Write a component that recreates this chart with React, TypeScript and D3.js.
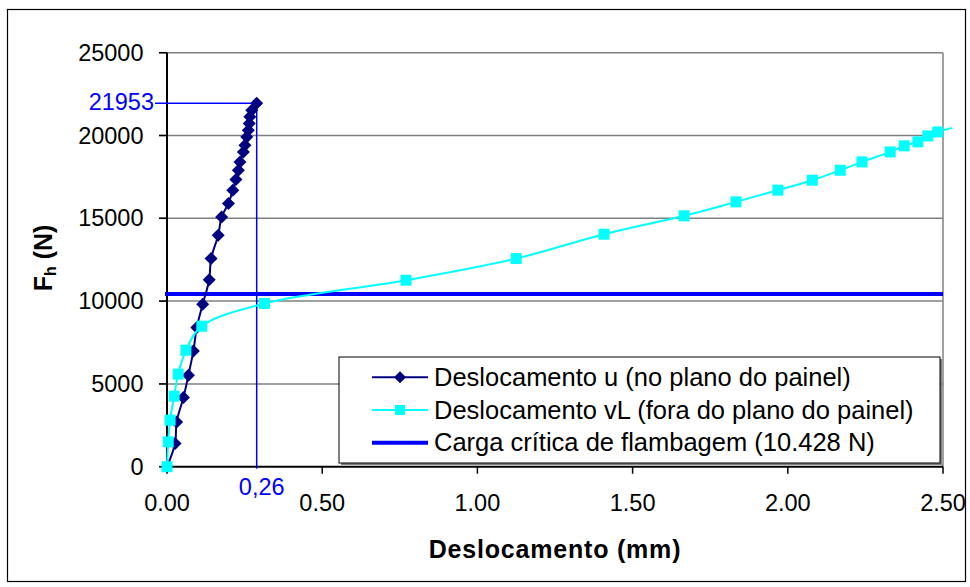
import React from "react";
import * as d3 from "d3";

// Deslocamento u (no plano do painel)
const uX = [0, 0.026, 0.031, 0.053, 0.069, 0.085, 0.096, 0.115, 0.136, 0.142, 0.165, 0.176, 0.198, 0.212, 0.222, 0.23, 0.235, 0.246, 0.251, 0.257, 0.262, 0.265, 0.267, 0.273, 0.289];
const uY = [0, 1400, 2705, 4180, 5525, 6990, 8405, 9810, 11290, 12570, 13980, 15085, 15895, 16700, 17340, 17900, 18405, 19010, 19415, 19915, 20320, 20725, 21125, 21530, 21953];

// Deslocamento vL (fora do plano do painel)
const vX = [0, 0.004, 0.01, 0.023, 0.036, 0.061, 0.112, 0.314, 0.77, 1.125, 1.408, 1.666, 1.833, 1.968, 2.079, 2.169, 2.239, 2.33, 2.375, 2.419, 2.451, 2.483, 2.53];
const vY = [0, 1500, 2810, 4260, 5590, 7035, 8485, 9855, 11260, 12570, 14040, 15150, 15990, 16700, 17300, 17900, 18405, 19010, 19375, 19615, 19975, 20215, 20460];

const criticalLoad = [10428];
const maxLoad = [21953];
const maxDispPos = [0.289];
const maxDispLabel = ["0,26"];

const xTicks = [0, 0.5, 1.0, 1.5, 2.0, 2.5];
const yTicks = [0, 5000, 10000, 15000, 20000, 25000];

const legendLabels = [
  "Deslocamento u (no plano do painel)",
  "Deslocamento vL (fora do plano do painel)",
  "Carga crítica de flambagem (10.428 N)",
];

const FONT = "'Liberation Sans', Arial, sans-serif";

export default function App() {
  const W = 970, H = 587;
  const x = d3.scaleLinear().domain([0, 2.5]).range([167, 943]);
  const y = d3.scaleLinear().domain([0, 25000]).range([466.7, 52.7]);
  const [x0, x1] = x.range();
  const [y0, y1] = y.range();

  const uData = uX.map((v, i) => [v, uY[i]] as [number, number]);
  const vData = vX.map((v, i) => [v, vY[i]] as [number, number]);

  const line = d3
    .line<[number, number]>()
    .x((d) => x(d[0]))
    .y((d) => y(d[1]))
    .curve(d3.curveCatmullRom.alpha(0.5));

  const diamond = (cx: number, cy: number, r: number) =>
    `M${cx},${cy - r}L${cx + r},${cy}L${cx},${cy + r}L${cx - r},${cy}Z`;

  const vLastVisible = vData.filter((d) => d[0] <= 2.5);

  const legX = 339, legY = 357, legW = 601, legH = 106;
  const rowY = [377.3, 410, 442.7];
  const sq = 11;

  return (
    <svg
      width={W}
      height={H}
      style={{ position: "absolute", left: 0, top: 0, background: "#fff" }}
      fontFamily={FONT}
    >
      <rect x={0} y={0} width={W} height={H} fill="#fff" />
      {/* outer border */}
      <rect x={7.5} y={9.5} width={958} height={572} fill="none" stroke="#000" strokeWidth={1.2} />

      {/* gridlines */}
      {yTicks.map((t) =>
        t === 0 ? null : (
          <line key={"g" + t} x1={x0 - 8} x2={x1} y1={y(t)} y2={y(t)} stroke="#808080" strokeWidth={1.5} />
        )
      )}
      {/* plot area right border */}
      <line x1={x1} x2={x1} y1={y1} y2={y0} stroke="#808080" strokeWidth={1.5} />

      {/* y ticks */}
      {yTicks.map((t) => (
        <g key={"yt" + t}>
          <line x1={x0 - 8} x2={x0} y1={y(t)} y2={y(t)} stroke="#000" strokeWidth={1.5} />
          <text x={143.5} y={y(t) + 8} textAnchor="end" fontSize={23.5} fill="#000">
            {t}
          </text>
        </g>
      ))}
      {/* x ticks */}
      {xTicks.map((t) => (
        <g key={"xt" + t}>
          <line x1={x(t)} x2={x(t)} y1={y0} y2={y0 + 7} stroke="#000" strokeWidth={1.5} />
          <text x={x(t)} y={511} textAnchor="middle" fontSize={23.5} fill="#000">
            {t.toFixed(2)}
          </text>
        </g>
      ))}

      {/* axes */}
      <line x1={x0} x2={x0} y1={y1} y2={y0} stroke="#000" strokeWidth={2} />
      <line x1={x0} x2={x1} y1={y0} y2={y0} stroke="#000" strokeWidth={2} />

      {/* max load annotation */}
      <line x1={155} x2={x(maxDispPos[0])} y1={y(maxLoad[0])} y2={y(maxLoad[0])} stroke="#0000FF" strokeWidth={1.5} />
      <line x1={x(maxDispPos[0])} x2={x(maxDispPos[0])} y1={y(maxLoad[0])} y2={y0 + 2} stroke="#0000FF" strokeWidth={1.5} />
      <text x={154} y={y(maxLoad[0]) + 6.5} textAnchor="end" fontSize={23.5} fill="#0000FF">
        {maxLoad[0]}
      </text>
      <text x={x(maxDispPos[0]) + 5} y={495} textAnchor="middle" fontSize={23.5} fill="#0000FF">
        {maxDispLabel[0]}
      </text>

      {/* critical load */}
      <line x1={x0 - 2} x2={x1} y1={y(criticalLoad[0])} y2={y(criticalLoad[0])} stroke="#0000FF" strokeWidth={4} />

      {/* series u */}
      <path d={line(uData) || ""} fill="none" stroke="#000080" strokeWidth={2} />
      {uData.map((d, i) => (
        <path key={"u" + i} d={diamond(x(d[0]), y(d[1]), 6.5)} fill="#000080" />
      ))}

      {/* series vL */}
      <path d={line(vData) || ""} fill="none" stroke="#00FFFF" strokeWidth={2} />
      {vLastVisible.map((d, i) => (
        <rect key={"v" + i} x={x(d[0]) - sq / 2} y={y(d[1]) - sq / 2} width={sq} height={sq} fill="#00FFFF" />
      ))}

      {/* legend */}
      <rect x={legX + 2} y={legY + 2} width={legW} height={legH} fill="#808080" />
      <rect x={legX} y={legY} width={legW} height={legH} fill="#fff" stroke="#000" strokeWidth={1} />
      <line x1={372} x2={428} y1={rowY[0]} y2={rowY[0]} stroke="#000080" strokeWidth={2} />
      <path d={diamond(400, rowY[0], 6)} fill="#000080" />
      <line x1={372} x2={428} y1={rowY[1]} y2={rowY[1]} stroke="#00FFFF" strokeWidth={2} />
      <rect x={395} y={rowY[1] - 5} width={10} height={10} fill="#00FFFF" />
      <line x1={372} x2={428} y1={rowY[2]} y2={rowY[2]} stroke="#0000FF" strokeWidth={4} />
      {legendLabels.map((l, i) => (
        <text key={l} x={434} y={rowY[i] + 8.5} fontSize={25.5} fill="#000">
          {l}
        </text>
      ))}

      {/* axis titles */}
      <text x={555} y={558} textAnchor="middle" fontSize={25} letterSpacing={0.8} fontWeight="bold" fill="#000">
        Deslocamento (mm)
      </text>
      <text transform={`translate(52,258) rotate(-90)`} textAnchor="middle" fontSize={25} fontWeight="bold" fill="#000">
        F<tspan fontSize={16} dy={4}>h</tspan>
        <tspan dy={-4}> (N)</tspan>
      </text>
    </svg>
  );
}
